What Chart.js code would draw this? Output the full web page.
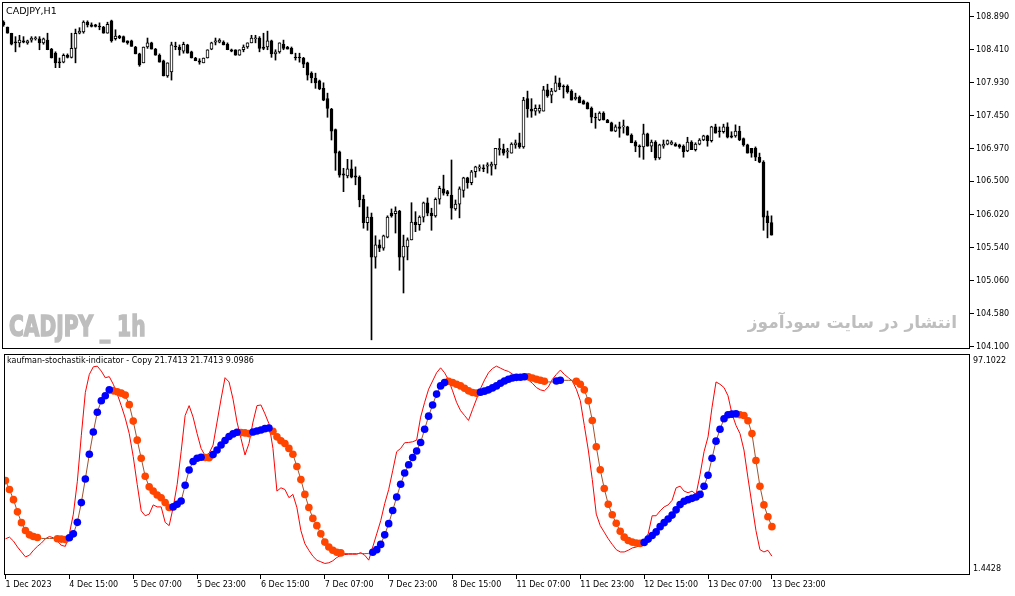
<!DOCTYPE html>
<html><head><meta charset="utf-8">
<script src="https://cdn.jsdelivr.net/npm/chart.js@4.4.0/dist/chart.umd.min.js"></script>
<style>
html,body{margin:0;padding:0;background:#fff;width:1015px;height:596px;overflow:hidden;}
#wrap{position:relative;width:1015px;height:596px;}
canvas{position:absolute;left:0;}
#c1{top:0;} #c2{top:350px;}
.t{position:absolute;white-space:nowrap;font-family:"DejaVu Sans",sans-serif;color:#000;}
</style></head><body>
<div id="wrap">
<canvas id="c1" width="1015" height="350"></canvas>
<canvas id="c2" width="1015" height="246"></canvas>
<div class="t" style="left:6px;top:5px;font-size:9.5px;line-height:12px;">CADJPY,H1</div>
<div class="t" style="left:9px;top:313px;font-family:'DejaVu Sans',sans-serif;font-weight:bold;font-size:28px;line-height:28px;color:#BEBEBE;-webkit-text-stroke:1.6px #BEBEBE;transform:scaleX(0.72);transform-origin:0 0;">CADJPY _ 1h</div>
<div class="t" dir="rtl" style="right:58px;top:312px;font-weight:bold;font-size:17px;line-height:21px;color:#BEBEBE;">انتشار در سایت سودآموز</div>
<div class="t" style="left:7px;top:355px;font-size:8px;line-height:12px;">kaufman-stochastik-indicator - Copy 21.7413 21.7413 9.0986</div>
</div>
<script>
// ---- data (H1 bars, index 0 = 1 Dec 23:00 ... 192 = 13 Dec 23:00) ----
const openP = [108.81,108.74,108.65,108.52,108.51,108.54,108.51,108.55,108.57,108.57,
108.51,108.55,108.42,108.36,108.23,108.23,108.33,108.30,108.43,108.65,
108.67,108.81,108.77,108.77,108.75,108.74,108.65,108.83,108.57,108.61,
108.60,108.54,108.54,108.45,108.35,108.22,108.45,108.51,108.42,108.33,
108.25,108.03,108.09,108.46,108.45,108.39,108.48,108.38,108.29,108.25,
108.22,108.29,108.42,108.52,108.52,108.52,108.49,108.41,108.41,108.33,
108.41,108.45,108.51,108.57,108.58,108.45,108.45,108.54,108.35,108.38,
108.49,108.45,108.43,108.30,108.29,108.29,108.22,108.07,108.00,107.96,
107.85,107.70,107.55,107.25,106.93,106.61,106.58,106.68,106.58,106.56,
106.24,105.90,105.98,105.40,105.58,105.53,105.69,106.04,106.03,106.07,
105.40,105.55,105.65,105.91,105.87,105.98,106.19,106.04,106.00,106.24,
106.39,106.35,106.30,106.10,106.17,106.37,106.55,106.48,106.64,106.69,
106.69,106.72,106.72,106.74,106.96,106.97,106.93,106.91,107.03,107.06,
107.00,107.70,107.55,107.52,107.52,107.52,107.83,107.75,107.81,107.93,
107.88,107.88,107.81,107.70,107.72,107.67,107.64,107.56,107.43,107.39,
107.49,107.39,107.35,107.23,107.29,107.29,107.29,107.17,107.07,107.01,
107.00,107.19,107.01,107.07,106.84,107.01,107.04,107.04,107.04,107.03,
107.01,106.94,107.07,106.96,107.04,107.10,107.16,107.09,107.29,107.23,
107.22,107.29,107.16,107.16,107.23,107.12,107.03,106.98,106.98,106.85,
106.78,106.00,105.90];
const highP = [108.83,108.74,108.65,108.60,108.62,108.60,108.55,108.60,108.60,108.60,
108.58,108.65,108.43,108.38,108.29,108.35,108.35,108.65,108.71,108.73,
108.83,108.83,108.80,108.78,108.80,108.75,108.81,108.84,108.70,108.62,
108.61,108.54,108.55,108.46,108.36,108.45,108.58,108.52,108.43,108.35,
108.26,108.22,108.52,108.52,108.48,108.52,108.49,108.39,108.30,108.28,
108.29,108.41,108.52,108.58,108.57,108.54,108.51,108.42,108.41,108.41,
108.48,108.51,108.62,108.62,108.60,108.65,108.68,108.55,108.41,108.51,
108.55,108.46,108.45,108.36,108.36,108.30,108.23,108.09,108.07,107.97,
107.93,107.78,107.56,107.26,106.94,106.69,106.82,106.81,106.71,106.58,
106.30,106.13,106.04,105.71,105.65,105.72,106.00,106.10,106.13,106.08,
105.72,105.68,106.19,106.06,106.00,106.20,106.26,106.11,106.26,106.43,
106.59,106.37,106.81,106.23,106.42,106.56,106.56,106.66,106.72,106.74,
106.74,106.77,106.78,106.98,107.12,107.04,106.98,107.06,107.10,107.20,
107.72,107.81,107.70,107.61,107.61,107.88,107.91,107.85,108.03,108.00,
107.90,107.90,107.83,107.78,107.74,107.68,107.65,107.58,107.49,107.51,
107.51,107.40,107.36,107.32,107.36,107.39,107.30,107.19,107.09,107.03,
107.33,107.20,107.10,107.09,107.04,107.10,107.10,107.09,107.06,107.04,
107.03,107.14,107.09,107.06,107.12,107.17,107.17,107.30,107.33,107.29,
107.33,107.35,107.22,107.32,107.30,107.13,107.04,106.98,107.00,106.91,
106.80,106.07,106.00];
const lowP = [108.75,108.65,108.48,108.38,108.45,108.51,108.49,108.52,108.55,108.41,
108.49,108.41,108.29,108.15,108.15,108.22,108.29,108.29,108.22,108.64,
108.65,108.74,108.74,108.74,108.70,108.65,108.65,108.52,108.55,108.57,
108.52,108.49,108.46,108.35,108.17,108.22,108.43,108.42,108.33,108.23,
108.03,108.01,107.97,108.41,108.33,108.36,108.36,108.29,108.25,108.20,
108.22,108.29,108.41,108.48,108.51,108.48,108.41,108.38,108.33,108.33,
108.38,108.43,108.51,108.51,108.38,108.41,108.41,108.30,108.26,108.36,
108.41,108.42,108.35,108.26,108.23,108.15,107.97,107.93,107.85,107.83,
107.67,107.43,107.10,106.66,106.56,106.35,106.55,106.55,106.45,106.13,
105.82,105.79,104.20,105.24,105.48,105.50,105.68,105.98,105.75,105.21,
104.88,105.36,105.65,105.77,105.79,105.91,106.00,105.79,105.98,106.17,
106.30,106.29,105.95,106.08,105.97,106.27,106.40,106.45,106.56,106.65,
106.64,106.62,106.59,106.68,106.88,106.88,106.84,106.91,106.98,106.98,
106.98,107.43,107.43,107.46,107.49,107.52,107.72,107.64,107.80,107.83,
107.71,107.78,107.68,107.68,107.64,107.62,107.55,107.35,107.27,107.38,
107.39,107.35,107.23,107.22,107.14,107.20,107.17,107.06,106.93,106.85,
106.82,107.01,106.93,106.81,106.82,106.98,107.03,107.03,107.01,106.98,
106.85,106.93,106.96,106.94,107.03,107.09,107.01,107.07,107.20,107.14,
107.20,107.13,107.13,107.14,107.09,107.01,106.91,106.85,106.80,106.77,
105.79,105.68,105.72];
const closeP = [108.77,108.65,108.49,108.51,108.55,108.52,108.54,108.58,108.58,108.51,
108.57,108.41,108.29,108.22,108.22,108.33,108.30,108.43,108.65,108.68,
108.81,108.77,108.75,108.75,108.74,108.65,108.78,108.54,108.61,108.58,
108.52,108.51,108.46,108.35,108.19,108.45,108.51,108.42,108.33,108.23,
108.03,108.22,108.48,108.45,108.41,108.49,108.36,108.29,108.25,108.23,
108.29,108.41,108.51,108.54,108.55,108.48,108.41,108.39,108.33,108.41,
108.45,108.51,108.58,108.58,108.43,108.43,108.54,108.35,108.38,108.51,
108.43,108.42,108.35,108.29,108.29,108.20,108.04,108.00,107.93,107.84,
107.68,107.56,107.23,106.91,106.59,106.59,106.68,106.56,106.56,106.23,
105.90,105.98,105.40,105.58,105.53,105.71,105.98,106.00,106.07,105.40,
105.56,105.65,105.91,105.87,105.98,106.19,106.04,106.00,106.24,106.40,
106.33,106.32,106.11,106.17,106.39,106.55,106.48,106.64,106.71,106.71,
106.68,106.74,106.75,106.98,106.98,106.91,106.94,107.04,107.06,107.00,
107.68,107.55,107.52,107.56,107.56,107.83,107.74,107.81,107.93,107.87,
107.87,107.80,107.68,107.72,107.64,107.62,107.55,107.43,107.42,107.49,
107.39,107.35,107.23,107.29,107.27,107.30,107.17,107.06,107.01,107.00,
107.19,107.01,107.07,106.84,107.03,107.04,107.09,107.07,107.01,107.00,
106.93,107.07,106.96,107.04,107.10,107.16,107.09,107.29,107.20,107.22,
107.29,107.14,107.14,107.23,107.10,107.03,106.91,106.91,106.85,106.78,
105.98,105.90,105.72];

// indicator: main (red) line and signal (dotted) line
const mainLine = [15.39,16.14,14.33,11.60,9.33,7.06,7.82,10.09,11.91,13.42,
15.39,16.44,15.84,14.33,12.36,11.91,17.65,26.73,41.86,63.04,
82.71,91.04,94.52,94.82,92.55,89.52,89.98,86.50,81.96,76.66,
70.91,63.80,53.21,40.35,28.25,25.98,26.73,30.97,30.06,30.06,
22.95,21.44,29.76,40.35,55.48,72.12,76.66,71.37,63.80,56.99,
53.66,54.72,58.51,69.10,79.69,89.52,87.56,79.69,69.10,61.53,
53.97,59.26,69.10,76.66,76.96,72.88,68.34,56.99,37.32,38.84,
38.08,34.30,35.81,29.76,19.17,13.12,10.09,7.37,5.55,4.79,
4.04,4.34,5.25,6.76,7.82,8.12,8.27,8.27,8.27,9.03,
7.82,5.55,11.60,17.65,23.71,31.57,38.08,46.70,55.48,56.99,
59.57,59.72,60.02,60.78,71.37,78.17,84.23,88.01,91.79,94.06,
91.79,88.46,83.47,78.17,74.39,72.12,69.85,74.85,79.69,84.53,
88.46,91.79,93.76,94.82,93.91,93.00,92.40,91.19,90.58,89.52,
89.37,88.46,86.95,84.98,83.92,83.47,85.29,88.77,91.04,93.00,
91.04,89.52,88.01,84.23,78.93,67.58,56.24,42.62,26.73,21.44,
18.41,15.39,12.81,10.39,9.33,9.33,10.09,11.15,11.60,12.36,
14.63,17.65,25.98,25.98,28.25,30.06,30.97,33.09,38.84,39.59,
37.32,36.57,37.32,35.81,44.89,55.48,62.29,75.91,87.56,86.50,
84.98,81.20,72.88,67.58,63.80,56.24,43.38,31.27,19.17,10.39,
9.33,10.09,7.37];
const signalLine = [42.17,38.08,33.39,27.79,22.80,19.17,17.20,16.44,15.99,15.54,
15.54,15.54,15.54,15.39,15.24,15.08,15.84,17.65,22.95,32.03,
42.92,54.27,64.56,73.64,78.93,81.20,83.92,83.47,83.02,82.41,
81.50,77.12,69.55,60.78,52.45,44.13,39.29,37.32,35.51,34.30,
32.03,29.76,30.06,31.27,32.78,40.05,47.01,50.94,52.45,52.91,
52.76,52.68,54.12,56.24,58.51,60.62,62.44,63.65,64.41,64.26,
64.11,63.80,64.56,65.01,65.47,66.07,66.37,64.86,62.29,60.47,
59.26,56.99,54.27,48.67,42.62,35.81,29.76,24.77,21.44,17.65,
13.87,11.60,10.09,9.18,8.88,8.58,8.58,8.58,8.58,8.58,
8.58,8.58,9.18,10.39,12.81,17.20,22.35,28.40,34.60,40.50,
45.65,49.43,52.76,55.78,59.72,65.77,71.82,76.96,81.96,85.74,
87.25,87.86,87.25,86.50,85.74,84.68,83.47,82.71,82.41,82.87,
83.32,83.92,84.83,85.74,86.95,88.01,88.77,89.37,89.67,89.75,
89.98,89.90,89.37,88.77,88.31,87.86,87.56,87.56,88.01,88.31,
88.31,88.31,88.31,87.86,86.50,83.92,78.93,69.85,57.75,47.16,
38.53,31.27,26.43,22.50,18.87,16.14,14.63,13.87,13.42,13.27,
13.72,15.23,16.90,18.56,20.98,22.80,24.46,26.28,28.70,31.12,
32.63,33.39,34.00,34.60,35.81,39.59,44.59,52.45,60.32,65.77,
70.61,72.43,72.73,72.88,72.43,72.12,69.70,63.80,51.39,39.59,
30.97,25.52,20.98];
// dot colour runs: 1 = blue (up), -1 = orange (down), 0 = no dot
const dotRuns = [[-1,9],[0,4],[-1,3],[1,11],[-1,15],[1,8],[-1,2],[1,7],[-1,3],[1,5],
[-1,18],[0,7],[1,19],[-1,8],[1,12],[-1,5],[0,2],[1,2],[0,3],[-1,17],[1,24],[-1,9]];

const priceTicks = [104.100,104.580,105.060,105.540,106.020,106.500,106.970,107.450,107.930,108.410,108.890];
const indTicks = [1.4428,97.1022];
const timeTickIdx = [0,16,32,48,64,80,96,112,128,144,160,176,192];
const timeTickLabels = ['1 Dec 2023','4 Dec 15:00','5 Dec 07:00','5 Dec 23:00','6 Dec 15:00','7 Dec 07:00',
 '7 Dec 23:00','8 Dec 15:00','11 Dec 07:00','11 Dec 23:00','12 Dec 15:00','13 Dec 07:00','13 Dec 23:00'];

// ---- build ----
const X_MIN = -0.375, X_MAX = 241.625;
const dotDir = [];
dotRuns.forEach(([d,n]) => { for (let k=0;k<n;k++) dotDir.push(d); });

const wicks = highP.map((h,i)=>({x:i, y:[lowP[i], h]}));
const bodies = openP.map((o,i)=>({x:i, y:[o, closeP[i]]}));
const bodyColors = openP.map((o,i)=> closeP[i] > o ? '#FFFFFF' : '#000000');

const frame = { id:'frame', afterDraw(chart){
  const {ctx, chartArea:a} = chart;
  ctx.save(); ctx.strokeStyle='#000'; ctx.lineWidth=1;
  ctx.strokeRect(Math.round(a.left)+0.5, Math.round(a.top)+0.5, Math.round(a.right-a.left)-1, Math.round(a.bottom-a.top)-1);
  ctx.restore();
}};
const fnt = {family:'DejaVu Sans', size:8};

new Chart(document.getElementById('c1'), {
  type:'bar',
  data:{datasets:[
    {label:'body', data:bodies, backgroundColor:bodyColors, borderColor:'#000', borderWidth:1, borderSkipped:false,
     barThickness:3, maxBarThickness:3, barPercentage:1, categoryPercentage:1, grouped:false, minBarLength:1, order:0},
    {label:'wick', data:wicks, backgroundColor:'#000', borderWidth:0,
     barThickness:1, maxBarThickness:1, barPercentage:1, categoryPercentage:1, grouped:false, order:1}
  ]},
  options:{
    responsive:false, animation:false, devicePixelRatio:1,
    layout:{padding:{left:2, top:2, right:0, bottom:1}},
    plugins:{legend:{display:false}, tooltip:{enabled:false}},
    scales:{
      x:{type:'linear', min:X_MIN, max:X_MAX, offset:false, display:false},
      y:{type:'linear', position:'right', min:104.067, max:109.103,
        afterBuildTicks:s=>{ s.ticks = priceTicks.map(v=>({value:v})); },
        afterFit:s=>{ s.width = 45; s.paddingTop = 0; s.paddingBottom = 0; },
        ticks:{callback:v=>Number(v).toFixed(3), font:fnt, color:'#000', padding:2, autoSkip:false},
        grid:{drawOnChartArea:false, drawTicks:true, tickLength:4, color:'#000'},
        border:{display:false}}
    }
  },
  plugins:[frame]
});

new Chart(document.getElementById('c2'), {
  type:'line',
  data:{datasets:[
    {label:'up', data:signalLine.map((v,i)=>({x:i,y:v})).filter((p,i)=>dotDir[i]===1), showLine:false,
     pointRadius:3.8, pointBackgroundColor:'#0000FF', pointBorderColor:'#0000FF', pointBorderWidth:0, order:0},
    {label:'down', data:signalLine.map((v,i)=>({x:i,y:v})).filter((p,i)=>dotDir[i]===-1), showLine:false,
     pointRadius:3.8, pointBackgroundColor:'#FF4500', pointBorderColor:'#FF4500', pointBorderWidth:0, order:0},
    {label:'signal', data:signalLine.map((v,i)=>({x:i,y:v})), borderColor:'#A0522D', borderWidth:1, pointRadius:0, order:1},
    {label:'main', data:mainLine.map((v,i)=>({x:i,y:v})), borderColor:'#FF0000', borderWidth:1, pointRadius:0, order:2}
  ]},
  options:{
    responsive:false, animation:false, devicePixelRatio:1,
    layout:{padding:{left:2, top:1, right:0, bottom:0}},
    plugins:{legend:{display:false}, tooltip:{enabled:false}},
    scales:{
      x:{type:'linear', position:'bottom', min:X_MIN, max:X_MAX, offset:false,
        afterBuildTicks:s=>{ s.ticks = timeTickIdx.map(v=>({value:v})); },
        afterFit:s=>{ s.height = 21; s.paddingLeft = 0; s.paddingRight = 0; },
        ticks:{callback:(v,idx)=>timeTickLabels[idx], align:'start', maxRotation:0, minRotation:0, autoSkip:false,
               padding:1, font:fnt, color:'#000'},
        grid:{drawOnChartArea:false, drawTicks:true, tickLength:4, color:'#000'},
        border:{display:false}},
      y:{type:'linear', position:'right', min:-1.28, max:100.42,
        afterBuildTicks:s=>{ s.ticks = indTicks.map(v=>({value:v})); },
        afterFit:s=>{ s.width = 45; s.paddingTop = 0; s.paddingBottom = 0; },
        ticks:{callback:v=>Number(v).toFixed(4), font:fnt, color:'#000', padding:3, autoSkip:false},
        grid:{drawOnChartArea:false, drawTicks:false, color:'#000'},
        border:{display:false}}
    }
  },
  plugins:[frame]
});
</script>
</body></html>
